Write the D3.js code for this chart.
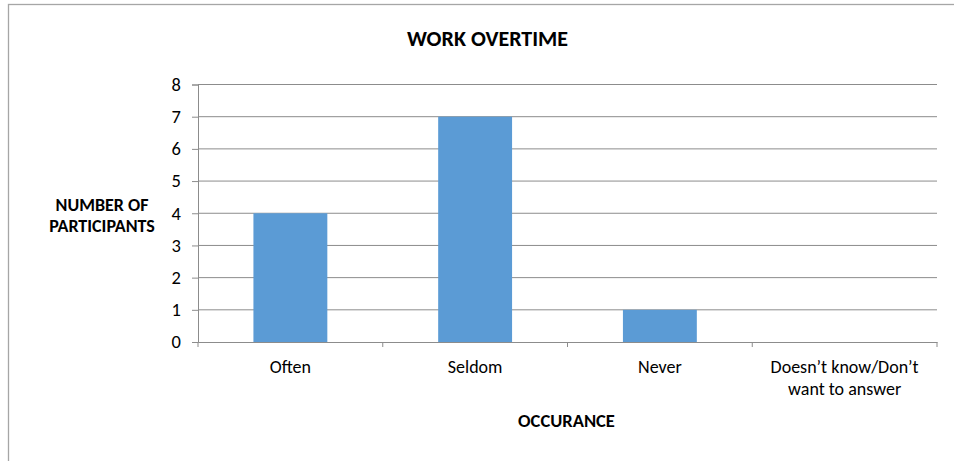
<!DOCTYPE html>
<html>
<head>
<meta charset="utf-8">
<script src="https://cdn.jsdelivr.net/npm/d3@7"></script>
<style>
  body { margin: 0; background: #fff; }
  text { font-family: Carlito, "Open Sans", "Liberation Sans", sans-serif; fill: #000; }
</style>
</head>
<body>
<div id="chart"></div>
<script>
// chart data
const categories = ["Often", "Seldom", "Never", "Doesn\u2019t know/Don\u2019t want to answer"];
const participants = [4, 7, 1, 0];
const yTicks = [0, 1, 2, 3, 4, 5, 6, 7, 8];

const width = 954;
const height = 461;
const margin = {left: 198, right: 17, top: 84.5, bottom: 119};

const svg = d3.select("#chart")
  .append("svg")
  .attr("width", width)
  .attr("height", height);

// outer chart border
svg.append("rect")
  .attr("x", 8.5).attr("y", 4.5)
  .attr("width", 960).attr("height", 470)
  .attr("fill", "none")
  .attr("stroke", "#a6a6a6")
  .attr("stroke-width", 1.3);

const yScale = d3.scaleLinear()
  .domain([0, 8])
  .range([height - margin.bottom, margin.top]);

const xScale = d3.scaleBand()
  .domain(d3.range(categories.length))
  .range([margin.left, width - margin.right]);

// gridlines
svg.append("g")
  .selectAll("line")
  .data(yTicks.slice(1))
  .enter()
  .append("line")
    .attr("x1", margin.left)
    .attr("x2", width - margin.right)
    .attr("y1", d => yScale(d))
    .attr("y2", d => yScale(d))
    .attr("stroke", "#8c8c8c")
    .attr("stroke-width", 1);

// y axis
const yAxis = svg.append("g")
  .attr("transform", `translate(${margin.left},0)`)
  .call(d3.axisLeft(yScale).tickValues(yTicks).tickSize(6).tickPadding(11).tickFormat(d3.format("d")));
yAxis.select(".domain").attr("stroke", "#8c8c8c");
yAxis.selectAll(".tick line").attr("stroke", "#8c8c8c");
yAxis.selectAll("text").attr("font-size", "18.5px").style("font-family", "Carlito, 'Open Sans', sans-serif");

// bars
const barWidth = xScale.bandwidth() / 2.5;
svg.selectAll(".bar")
  .data(participants)
  .enter()
  .append("rect")
    .attr("class", "bar")
    .attr("x", (d, i) => xScale(i) + (xScale.bandwidth() - barWidth) / 2)
    .attr("y", d => yScale(d))
    .attr("width", barWidth)
    .attr("height", d => yScale(0) - yScale(d))
    .attr("fill", "#5b9bd5");

// x axis
const xAxis = svg.append("g")
  .attr("transform", `translate(0,${yScale(0)})`)
  .call(d3.axisBottom(xScale).tickSize(0).tickFormat(""));
xAxis.select(".domain").attr("stroke", "#8c8c8c");

// x tick marks between categories
svg.append("g")
  .selectAll("line")
  .data(d3.range(categories.length + 1))
  .enter()
  .append("line")
    .attr("x1", i => margin.left + i * xScale.step())
    .attr("x2", i => margin.left + i * xScale.step())
    .attr("y1", yScale(0))
    .attr("y2", yScale(0) + 5)
    .attr("stroke", "#8c8c8c");

// x labels, wrapped by hand
const labelLines = [["Often"], ["Seldom"], ["Never"], ["Doesn\u2019t know/Don\u2019t", "want to answer"]];
labelLines.forEach((lines, i) => {
  const t = svg.append("text")
    .attr("x", xScale(i) + xScale.bandwidth() / 2)
    .attr("y", 373)
    .attr("text-anchor", "middle")
    .attr("font-size", "18px");
  lines.forEach((l, j) => {
    t.append("tspan")
      .attr("x", xScale(i) + xScale.bandwidth() / 2)
      .attr("dy", j === 0 ? 0 : 22)
      .text(l);
  });
});

// titles
svg.append("text")
  .attr("x", 487.5).attr("y", 46)
  .attr("text-anchor", "middle")
  .attr("font-size", "22px").attr("font-weight", "bold")
  .text("WORK OVERTIME");

svg.append("text")
  .attr("x", 566.5).attr("y", 426.5)
  .attr("text-anchor", "middle")
  .attr("font-size", "18.5px").attr("font-weight", "bold")
  .text("OCCURANCE");

// y title as two separate lines
const yTitleLines = ["NUMBER OF", "PARTICIPANTS"];
svg.selectAll(".ytitle")
  .data(yTitleLines)
  .enter()
  .append("text")
    .attr("class", "ytitle")
    .attr("x", 102)
    .attr("y", (d, i) => 211 + i * 20.5)
    .attr("text-anchor", "middle")
    .attr("font-size", "18px").attr("font-weight", "bold")
    .text(d => d);
</script>
</body>
</html>
